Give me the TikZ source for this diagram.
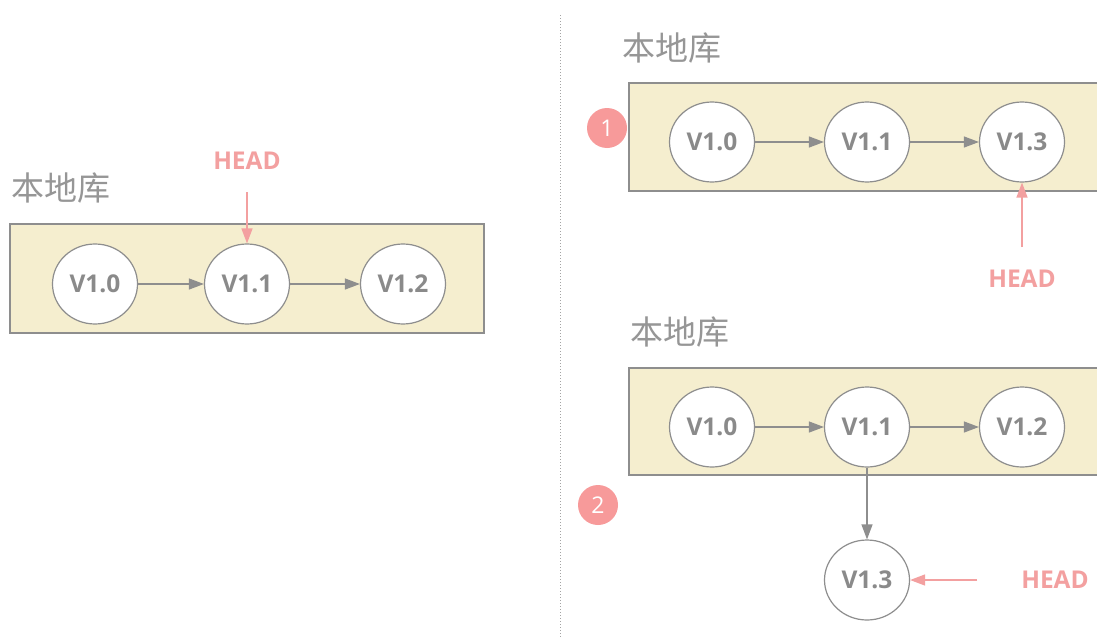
\documentclass[tikz,border=0pt]{standalone}
\usepackage{fontspec}
\setmainfont{Open Sans}
\newfontfamily\cjk{Noto Sans CJK SC}
\usetikzlibrary{arrows.meta,shapes.geometric}
\definecolor{boxfill}{HTML}{F5EECF}
\definecolor{linegray}{HTML}{8E8E8E}
\definecolor{textgray}{HTML}{8A8A8A}
\definecolor{headpink}{HTML}{F3A0A0}
\definecolor{badgepink}{HTML}{F79A9A}
\tikzset{
  commit/.style={ellipse, draw=linegray, line width=1.2pt, fill=white, minimum width=85pt, minimum height=80pt, inner sep=0pt, font=\fontsize{24.5}{24.5}\selectfont\bfseries, text=textgray},
  repo/.style={draw=linegray, line width=1.2pt, fill=boxfill},
  repolabel/.style={font=\cjk\fontsize{33}{33}\selectfont, text=textgray!90},
  headlabel/.style={font=\fontsize{24.5}{24.5}\selectfont\bfseries, text=headpink},
  conn/.style={draw=linegray, line width=1.2pt, -{Triangle[length=15pt, width=11pt]}},
  headarrow/.style={draw=headpink, line width=1.4pt, -{Triangle[length=15pt, width=11pt]}},
  badge/.style={circle, fill=badgepink, minimum size=40pt, inner sep=0pt, text=white, font=\fontsize{23}{23}\selectfont}
}
\begin{document}
\begin{tikzpicture}[x=1pt, y=-1pt]
\useasboundingbox (0,0) rectangle (1097,637);
\fill[white] (0,0) rectangle (1097,637);
% divider
\draw[linegray!80, dotted, line width=1pt] (560,15) -- (560,637);

% ---- left panel ----
\node[repolabel] (lab0) at (61,188) {本地库};
\draw[repo] (10,224) rectangle (484,333);
\node[commit] (a0) at (95,284) {V1.0};
\node[commit] (a1) at (247,284) {V1.1};
\node[commit] (a2) at (403,284) {V1.2};
\draw[conn] (a0) -- (a1);
\draw[conn] (a1) -- (a2);
\node[headlabel] (ha) at (247,161) {HEAD};
\coordinate (hat) at (247,192);
\draw[headarrow] (hat) -- (a1.north);

% ---- right top ----
\node[repolabel] (lab1) at (672,48) {本地库};
\draw[repo] (629,83) rectangle (1110,191);
\node[badge] (b1) at (607,128) {1};
\node[commit] (b0) at (712,142) {V1.0};
\node[commit] (bb1) at (867,142) {V1.1};
\node[commit] (b3) at (1022,142) {V1.3};
\draw[conn] (b0) -- (bb1);
\draw[conn] (bb1) -- (b3);
\node[headlabel] (hb) at (1022,279) {HEAD};
\coordinate (hbt) at (1022,247);
\draw[headarrow] (hbt) -- (b3.south);

% ---- right bottom ----
\node[repolabel] (lab2) at (680,332) {本地库};
\draw[repo] (629,368) rectangle (1110,475);
\node[badge] (b2) at (598,505) {2};
\node[commit] (c0) at (712,427) {V1.0};
\node[commit] (c1) at (867,427) {V1.1};
\node[commit] (c2) at (1022,427) {V1.2};
\node[commit] (c3) at (867,580) {V1.3};
\draw[conn] (c0) -- (c1);
\draw[conn] (c1) -- (c2);
\draw[conn] (c1) -- (c3);
\node[headlabel] (hc) at (1055,580) {HEAD};
\coordinate (hct) at (977,580);
\draw[headarrow] (hct) -- (c3.east);
\end{tikzpicture}
\end{document}
